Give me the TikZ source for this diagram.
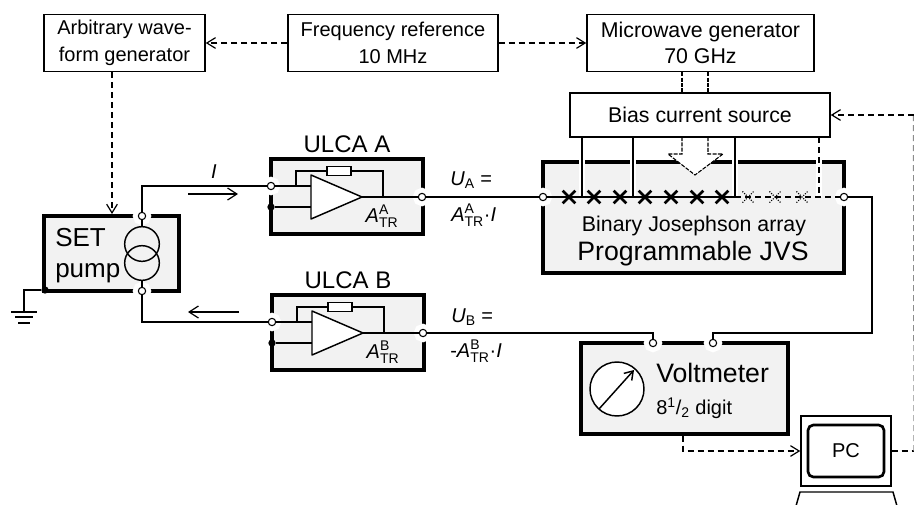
\documentclass[tikz,border=0pt]{standalone}
\usepackage{amsmath}
\usepackage{fontspec}
\setmainfont{Liberation Sans}
\usetikzlibrary{arrows.meta,shapes.misc}
\tikzset{
  wbox/.style 2 args={draw,line width=1.1pt,fill=white,align=center,inner sep=0pt,
    minimum width=#1*.75pt,minimum height=#2*.75pt,font=\fontsize{15}{20}\selectfont},
  gbox/.style 2 args={draw,line width=2.3pt,fill=black!5,inner sep=0pt,
    minimum width=#1*.75pt,minimum height=#2*.75pt},
  term/.style={circle,draw,line width=.8pt,fill=white,inner sep=0pt,minimum size=5.5pt,
    preaction={draw=white,line width=8pt}},
  blackdot/.style={circle,fill=black,inner sep=0pt,minimum size=5.5pt},
  wire/.style={line width=1.1pt},
  sig/.style={line width=.9pt,dash pattern=on 4.5pt off 3pt},
  sigtip/.style={sig,-{Straight Barb[length=6.5pt,width=8pt]}},
  curr/.style={line width=.9pt,-{Straight Barb[length=7pt,width=9pt]}},
  jj/.style={cross out,draw,line width=2pt,inner sep=0pt,minimum size=7.5pt},
  jjoff/.style={cross out,draw,line width=.8pt,densely dotted,inner sep=0pt,minimum size=7.5pt},
  txt/.style={inner sep=0pt,font=\fontsize{15}{20}\selectfont},
  big/.style={inner sep=0pt,font=\fontsize{20}{24}\selectfont},
}
\begin{document}
\begin{tikzpicture}[x=.75pt,y=-.75pt]
  \path[use as bounding box,clip] (0,0) rectangle (914,504);

  % top row
  \node[wbox={161}{57}] (awg) at (124.5,43) {Arbitrary wave-\\form generator};
  \node[wbox={210}{57}] (freq) at (393,43) {Frequency reference\\10 MHz};
  \node[wbox={227}{57},font=\fontsize{16}{20}\selectfont] (mw) at (700.5,43) {Microwave generator\\70 GHz};

  \draw[sigtip] (freq.west) -- (awg.east);
  \draw[sigtip] (freq.east) -- (mw.west);

  % SET pump
  \node[gbox={135}{75}] (set) at (111.5,253.5) {};
  \node[big,font=\fontsize{19.5}{24}\selectfont,anchor=west] (settxt) at (55,238) {SET};
  \node[big,font=\fontsize{19.5}{24}\selectfont,anchor=west] (pumptxt) at (55,273) {pump};
  \node[circle,draw,line width=1.1pt,inner sep=0pt,minimum size=26pt] (cs1) at (142,244) {};
  \node[circle,draw,line width=1.1pt,inner sep=0pt,minimum size=26pt] (cs2) at (142,263) {};
  \node[term] (seta) at (142,216) {};
  \node[term] (setb) at (142,291) {};
  \draw[wire] (seta) -- (cs1);
  \draw[wire] (setb) -- (cs2);
  \coordinate (setin) at (112,214);
  \draw[sigtip] (awg.south -| setin) -- (setin);

  % ground
  \node[blackdot] (gdot) at (45,290) {};
  \coordinate (gnd) at (24,312);
  \draw[line width=.9pt] (gdot) -| (gnd);
  \foreach \yy/\ww in {312/13,317/9,323/6}
    \draw[line width=.9pt] (24-\ww,\yy) -- (24+\ww,\yy);

  % both ULCA amplifiers
  \foreach \amp/\dx/\dy in {A/0/0,B/1/136}{
    \begin{scope}[shift={(\dx,\dy)}]
      \node[gbox={152}{75}] (ulca\amp) at (347,196.5) {};
      \node[inner sep=0pt,font=\fontsize{18}{20}\selectfont] (title\amp) at (347,144) {ULCA \amp};
      \node[term] (in\amp) at (271,186) {};
      \node[term] (out\amp) at (422,197) {};
      \node[blackdot] (dot\amp) at (271,207) {};
      \coordinate (tria\amp) at (311,175);
      \coordinate (trib\amp) at (311,219);
      \coordinate (tric\amp) at (362,197);
      \coordinate (fba\amp) at (296,186);
      \coordinate (fbb\amp) at (383,197);
      \draw[wire] (in\amp) -- (tria\amp |- in\amp);
      \draw[wire] (dot\amp) -- (tria\amp |- dot\amp);
      \draw[wire] (tric\amp) -- (out\amp);
      \draw[wire] (fba\amp) |- (fbb\amp |- 0,171) -- (fbb\amp);
      \node[draw,line width=1.1pt,fill=white,inner sep=0pt,minimum width=18pt,minimum height=6.5pt] (res\amp) at (339,171) {};
      \draw[wire,fill=white,line join=round] (tria\amp) -- (trib\amp) -- (tric\amp) -- cycle;
      \node[txt] (gain\amp) at (382,216) {$\textit{A}^{\text{\amp}}_{\text{TR}}$};
    \end{scope}
  }

  % JVS
  \node[gbox={301}{111}] (jvs) at (693.5,217.5) {};
  \node[inner sep=0pt,font=\fontsize{16}{20}\selectfont] (jvstxt) at (694,226) {Binary Josephson array};
  \node[big] (jvsname) at (693,254) {Programmable JVS};

  % microwave feed, hollow arrow
  \coordinate (mwa) at (682,137);
  \coordinate (mwb) at (708,137);
  \filldraw[fill=white,line width=.8pt,dash pattern=on 3pt off 1pt] (mwa) -- (682,154) -- (668,154) -- (695,175) -- (723,154) -- (708,154) -- (mwb);
  \draw[line width=.8pt,dash pattern=on 3pt off 1pt] (mwa |- mw.south) -- (mwa);
  \draw[line width=.8pt,dash pattern=on 3pt off 1pt] (mwb |- mw.south) -- (mwb);

  % bias lines
  \foreach \bb/\xx in {1/582,2/633,3/735}{
    \coordinate (bl\bb) at (\xx,197);
    \draw[wire,preaction={draw=white,line width=5pt}] (bl\bb |- 0,137) -- (bl\bb);
  }
  \coordinate (bl4) at (819,197);
  \draw[white,line width=5pt] (bl4 |- 0,137) -- (bl4);
  \draw[sig] (bl4 |- 0,137) -- (bl4);
  \node[wbox={260}{44},font=\fontsize{16}{20}\selectfont] (bias) at (700,115) {Bias current source};

  % array
  \node[term] (jl) at (543,197) {};
  \node[term] (jr) at (844,197) {};
  \draw[wire] (jl) -- (bl3);
  \draw[sig] (bl3) -- (jr);
  \foreach \n/\xx in {1/569,2/594,3/620,4/645,5/671,6/697,7/722}
    \node[jj] (jj\n) at (\xx,197) {};
  \foreach \n/\xx in {8/748,9/775,10/802}
    \node[jjoff] (jj\n) at (\xx,197) {};

  % voltmeter
  \node[gbox={207}{91}] (vm) at (684.5,388.5) {};
  \node[circle,draw,line width=1.1pt,fill=white,inner sep=0pt,minimum size=40.5pt] (meter) at (617,389) {};
  \coordinate (meta) at (599,409);
  \coordinate (metb) at (634,370);
  \draw[line width=1.1pt,-{Straight Barb[length=6pt,width=8pt]}] (meta) -- (metb);
  \node[big,anchor=west] (vmtxt) at (656,373) {Voltmeter};
  \node[txt,anchor=west] (vmdig) at (656,408) {8$^{\text{1}}$/$_{\text{2}}$ digit};
  \node[term] (vma) at (653,343) {};
  \node[term] (vmb) at (713,343) {};

  % signal wires
  \draw[wire] (seta) |- (inA);
  \draw[wire] (setb) |- (inB);
  \draw[wire] (outA) -- (jl);
  \draw[wire] (outB) -| (vma);
  \coordinate (rr) at (872,333);
  \draw[wire] (jr) -| (rr) -| (vmb);

  \node[txt,font=\fontsize{15}{20}\itshape] (curI) at (214,172) {I};
  \coordinate (ia) at (188,194);
  \coordinate (ib) at (238,194);
  \coordinate (ic) at (239,312);
  \coordinate (id) at (188,312);
  \draw[curr] (ia) -- (ib);
  \draw[curr] (ic) -- (id);

  \node[txt,anchor=west] (ua) at (450,180) {\textit{U}$_{\text{A}}$ =};
  \node[txt,anchor=west] (uaval) at (451,215) {$\textit{A}^{\text{A}}_{\text{TR}}$·\textit{I}};
  \node[txt,anchor=west] (ub) at (451,317) {\textit{U}$_{\text{B}}$ =};
  \node[txt,anchor=west] (ubval) at (450,351) {-$\textit{A}^{\text{B}}_{\text{TR}}$·\textit{I}};

  % PC
  \node[wbox={90}{70}] (mon) at (846,451) {};
  \node[draw,line width=2pt,rounded corners=4pt,inner sep=0pt,minimum width=57pt,minimum height=39pt,font=\fontsize{15}{20}\selectfont] (pc) at (846,451) {PC};
  \draw[line width=1.1pt] (796,506) -- (800,492) -- (893,492) -- (897,506);

  \coordinate (vmout) at (683,451);
  \draw[sigtip] (vm.south -| vmout) -- (vmout) -- (mon.west);
  \coordinate (pcr) at (914,451);
  \coordinate (pct) at (913.5,115);
  \draw[sig] (mon.east) -- (pcr);
  \draw[sig,black!45] (pcr) -- (pct);
  \draw[sigtip] (pct) -- (bias.east);
\end{tikzpicture}
\end{document}
